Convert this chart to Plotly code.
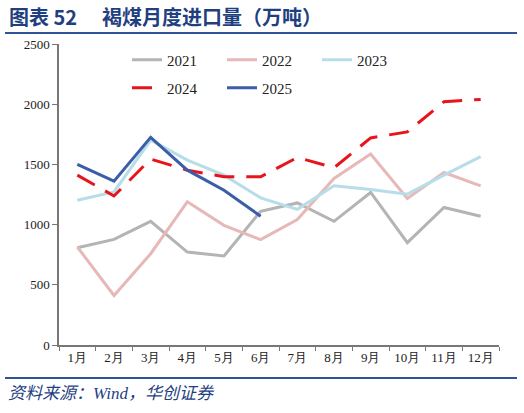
import plotly.graph_objects as go

# monthly lignite imports, 10k tonnes
months = ["1月", "2月", "3月", "4月", "5月", "6月", "7月", "8月", "9月", "10月", "11月", "12月"]
y2021 = [808, 877, 1027, 772, 739, 1111, 1180, 1027, 1267, 850, 1142, 1069]
y2022 = [814, 411, 758, 1189, 994, 875, 1042, 1383, 1586, 1217, 1433, 1322]
y2023 = [1202, 1272, 1702, 1536, 1411, 1222, 1127, 1322, 1292, 1253, 1411, 1564]
y2024 = [1411, 1238, 1544, 1452, 1397, 1397, 1558, 1472, 1720, 1770, 2020, 2040]
y2025 = [1500, 1361, 1725, 1452, 1286, 1069]

W, H = 524, 413
PW, PH = 440, 301  # plot area size in px
navy = "#1f3f7f"
serif = "Liberation Serif, Times New Roman, serif"

fig = go.Figure()

series = [
    ("2021", y2021, "#b4b4b4", "solid", "legend"),
    ("2022", y2022, "#e6b9b8", "solid", "legend"),
    ("2023", y2023, "#b7dde8", "solid", "legend"),
    ("2024", y2024, "#e8141c", "dash", "legend2"),
    ("2025", y2025, "#3a5ea8", "solid", "legend2"),
]
for name, vals, col, dash, lg in series:
    fig.add_trace(go.Scatter(
        x=months[:len(vals)], y=vals, name=name, mode="lines",
        line=dict(color=col, width=3, dash=dash if dash == "solid" else "20px,12px"),
        legend=lg,
    ))

leg = dict(orientation="h", xanchor="left", yanchor="middle", entrywidth=50,
           font=dict(size=15, family=serif), bgcolor="rgba(0,0,0,0)")
fig.update_layout(
    width=W, height=H,
    margin=dict(l=59, r=25, t=44, b=68),
    paper_bgcolor="white", plot_bgcolor="white",
    font=dict(family=serif, size=13, color="#222"),
    legend=dict(leg, x=68 / PW, y=1 - 16 / PH),
    legend2=dict(leg, x=68 / PW, y=1 - 44 / PH),
    xaxis=dict(type="category", range=[-0.5, 11.5], tickson="boundaries",
               ticks="outside", ticklen=4, tickcolor="#777",
               showline=True, linecolor="#777", linewidth=1.5, showgrid=False,
               tickfont=dict(size=13, family=serif)),
    yaxis=dict(range=[0, 2500], dtick=500, ticks="outside", ticklen=5, tickcolor="#777",
               showline=True, linecolor="#777", linewidth=1.5, showgrid=False,
               zeroline=False, tickfont=dict(size=13, family=serif)),
)

# header, rules and source note
cjk = "Noto Sans CJK SC"
fig.add_annotation(
    text="<b>图表 52</b>", xref="paper", yref="paper",
    x=-52 / PW, y=1 + 27 / PH, xanchor="left", yanchor="middle",
    showarrow=False, font=dict(size=20, color=navy, family=cjk),
)
fig.add_annotation(
    text="<b>褐煤月度进口量（万吨）</b>", xref="paper", yref="paper",
    x=41 / PW, y=1 + 27 / PH, xanchor="left", yanchor="middle",
    showarrow=False, font=dict(size=20, color=navy, family=cjk),
)
for yy in (1 + 11 / PH, -33 / PH):
    fig.add_shape(type="line", xref="paper", yref="paper",
                  x0=-54 / PW, x1=1 + 18 / PW, y0=yy, y1=yy,
                  line=dict(color="#2e5597", width=2))
fig.add_annotation(
    text="<i>资料来源：Wind，华创证券</i>",
    xref="paper", yref="paper", x=-53 / PW, y=-48 / PH, xanchor="left", yanchor="middle",
    showarrow=False, font=dict(size=17, color=navy, family=serif + ", " + cjk),
)

fig.write_html("out.html", config={"displayModeBar": False},
               post_script="document.body.style.margin='0';")
